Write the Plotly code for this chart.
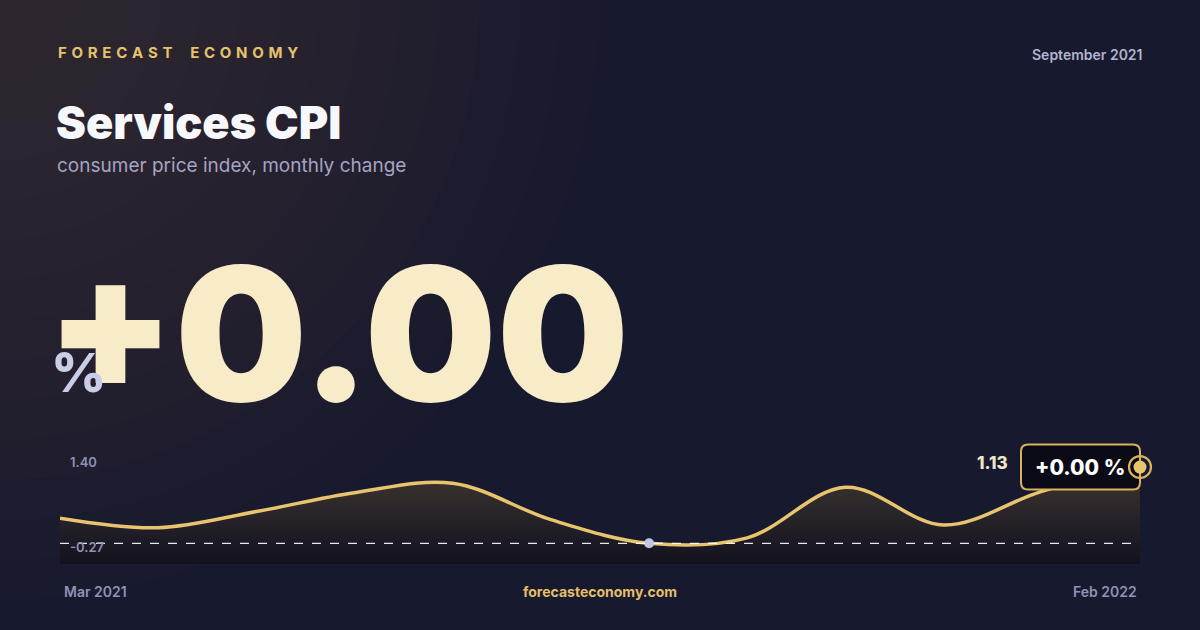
import plotly.graph_objects as go

# monthly change of services CPI
months = ["Mar 2021", "Apr 2021", "May 2021", "Jun 2021", "Jul 2021", "Aug 2021",
          "Sep 2021", "Oct 2021", "Nov 2021", "Dec 2021", "Jan 2022", "Feb 2022"]
cpi_change = [0.37, 0.23, 0.47, 0.75, 0.89, 0.35, 0.00, 0.08, 0.83, 0.27, 0.77, 1.13]

highlight_month = "Sep 2021"
scale_max = 1.40
scale_min = -0.27
headline = "+0.00"
badge_text = "+0.00 %"
card_date = "September 2021"

W, H = 1200, 630
BG = "#17192e"
GOLD = "#e8c46e"
FONT = "Inter"

x_idx = list(range(len(months)))
y_lo, y_hi = -0.307, 1.427
X_DOM = [60 / W, 1140 / W]
Y_DOM = [1 - 564 / H, 1 - 447 / H]


def px(x):
    return x / W


def py(y):
    return 1 - y / H


def data_to_paper(xv, yv):
    # same linear mapping the axes use, so paper shapes sit on the data point
    fx = X_DOM[0] + (xv - x_idx[0]) / (x_idx[-1] - x_idx[0]) * (X_DOM[1] - X_DOM[0])
    fy = Y_DOM[0] + (yv - y_lo) / (y_hi - y_lo) * (Y_DOM[1] - Y_DOM[0])
    return fx, fy


fig = go.Figure()

# baseline for the area fill (bottom of the axis)
fig.add_trace(go.Scatter(x=x_idx, y=[y_lo] * len(x_idx), mode="lines",
                         line=dict(width=0, color="rgba(0,0,0,0)"),
                         hoverinfo="skip", showlegend=False))
fig.add_trace(go.Scatter(x=x_idx, y=cpi_change, mode="lines",
                         line=dict(color=GOLD, width=3.5, shape="spline", smoothing=1.0),
                         fill="tonexty",
                         fillgradient=dict(type="vertical", start=y_lo, stop=max(cpi_change),
                                           colorscale=[[0, "#13121c"], [0.3, "#1f1c26"],
                                                       [1, "#40372f"]]),
                         showlegend=False))

hi = months.index(highlight_month)
fig.add_trace(go.Scatter(x=[hi], y=[cpi_change[hi]], mode="markers",
                         marker=dict(size=10, color="#c3c6e0"), showlegend=False))

shapes = []
# warm glow in the top-left corner
n = 14
for i in range(n):
    r = 600 - i * 40
    shapes.append(dict(type="circle", xref="paper", yref="paper", layer="below",
                       x0=px(-r), x1=px(r), y0=py(r), y1=py(-r),
                       fillcolor="rgba(115,88,60,0.027)", line=dict(width=0)))

# dashed zero line
shapes.append(dict(type="line", xref="x", yref="y", x0=0, x1=len(months) - 1 + 0.05,
                   y0=0, y1=0, line=dict(color="rgba(255,255,255,0.9)", width=1.3, dash="dash")))

# badge at the last point (rounded rect in pixels, paper-anchored so it isn't clipped)
last_x, last_y = x_idx[-1], cpi_change[-1]
ax, ay = data_to_paper(last_x, last_y)
bx0, bx1, by0, by1, rr = -119, 0, -22.5, 22.5, 7
badge_path = (f"M {bx0+rr},{by0} L {bx1-rr},{by0} Q {bx1},{by0} {bx1},{by0+rr} "
              f"L {bx1},{by1-rr} Q {bx1},{by1} {bx1-rr},{by1} L {bx0+rr},{by1} "
              f"Q {bx0},{by1} {bx0},{by1-rr} L {bx0},{by0+rr} Q {bx0},{by0} {bx0+rr},{by0} Z")
pin = dict(xref="paper", yref="paper", xsizemode="pixel", ysizemode="pixel",
           xanchor=ax, yanchor=ay)
shapes.append(dict(type="path", path=badge_path, fillcolor="#0a0b17",
                   line=dict(color="#d9b25e", width=2), **pin))
shapes.append(dict(type="circle", x0=-11, x1=11, y0=-11, y1=11,
                   fillcolor="rgba(0,0,0,0)", line=dict(color="#d9b25e", width=2.2), **pin))
shapes.append(dict(type="circle", x0=-6.5, x1=6.5, y0=-6.5, y1=6.5,
                   fillcolor=GOLD, line=dict(width=0), **pin))

ann = []


def text(x, y, s, size, color, weight=400, anchor="left", family=FONT):
    ann.append(dict(x=px(x), y=py(y), xref="paper", yref="paper", text=s, showarrow=False,
                    xanchor=anchor, yanchor="middle",
                    font=dict(family=family, size=size, color=color, weight=weight)))


brand = "\u2009\u2009".join("FORECAST ECONOMY").replace("\u2009\u2009 \u2009\u2009", "\u2009\u2009\u2009 \u2009\u2009\u2009")
text(56, 52, brand, 15, "#e6c36b", 700)
text(1145, 54, card_date, 14, "#b3b5d1", 600, "right")
text(54, 123, "Services CPI", 45, "#f7f8fc", 900)
text(55, 166, "consumer price index, monthly change", 19, "#a3a5c3", 400)
text(44, 333, headline, 186, "#f8ebc8", 900)
text(49, 372, "%", 54, "#c9cde6", 800)
text(68, 462, f"{scale_max:.2f}", 13, "#8e92b3", 600)
text(68, 547, f"{scale_min:.2f}", 13, "#8e92b3", 600)
text(62, 591, months[0], 14, "#8f93b5", 600)
text(600, 591, "forecasteconomy.com", 14, "#e3bf6a", 700, "center")
text(1139, 591, months[-1], 14, "#8f93b5", 600, "right")

ann.append(dict(x=ax, y=ay, xref="paper", yref="paper", text=badge_text, showarrow=False,
                xanchor="center", yanchor="middle", xshift=-60,
                font=dict(family=FONT, size=21, color="#ffffff", weight=800)))
ann.append(dict(x=ax, y=ay, xref="paper", yref="paper", text=f"{last_y:.2f}", showarrow=False,
                xanchor="right", yanchor="middle", xshift=-130, yshift=4,
                font=dict(family=FONT, size=17, color="#efe6cc", weight=800)))

fig.update_layout(
    width=W, height=H,
    margin=dict(l=0, r=0, t=0, b=0),
    paper_bgcolor=BG, plot_bgcolor="rgba(0,0,0,0)",
    xaxis=dict(domain=X_DOM, range=[x_idx[0], x_idx[-1]], visible=False, fixedrange=True),
    yaxis=dict(domain=Y_DOM, range=[y_lo, y_hi], visible=False, fixedrange=True),
    shapes=shapes, annotations=ann,
    showlegend=False,
)

fig.write_html("out.html", config={"displayModeBar": False},
               post_script="document.body.style.margin='0';")
